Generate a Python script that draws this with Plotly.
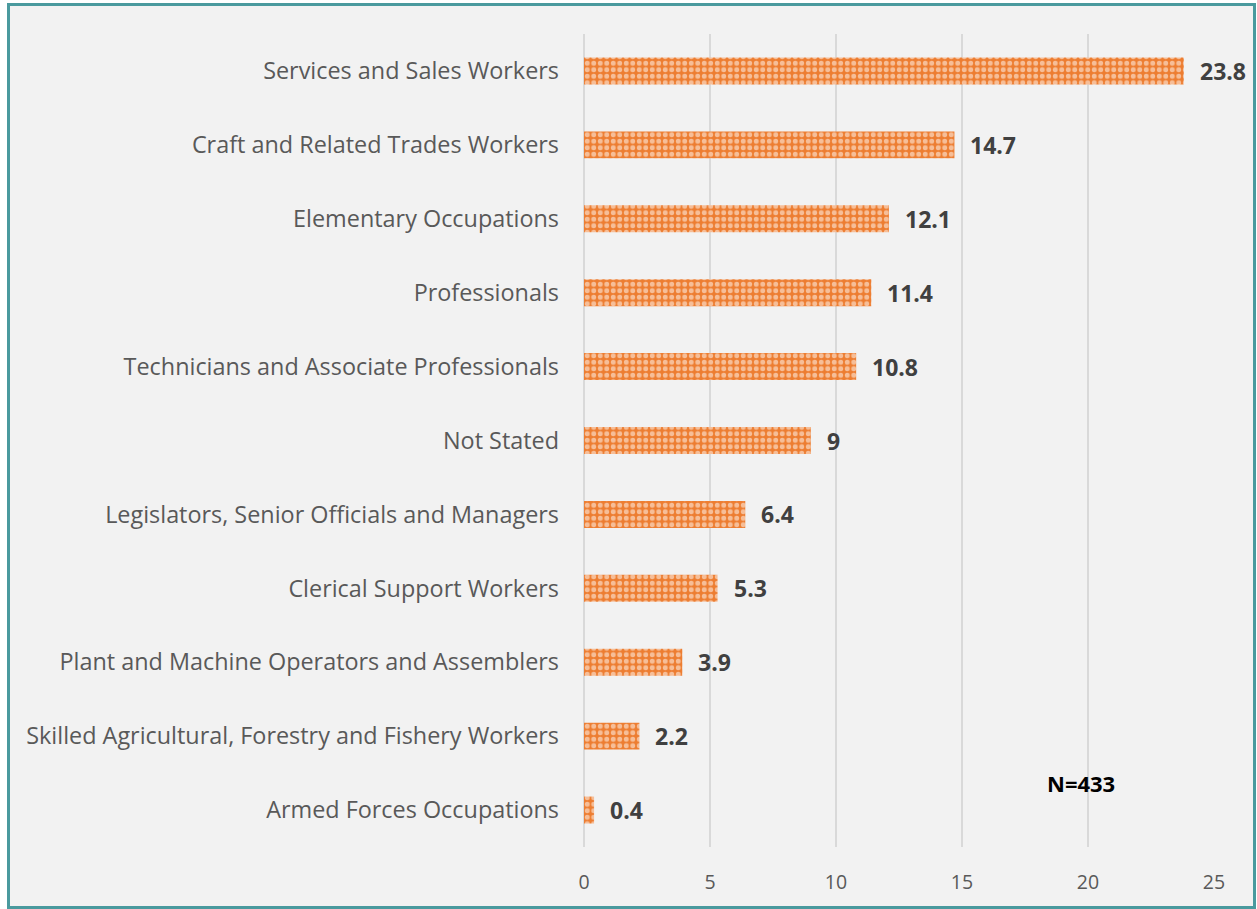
import plotly.graph_objects as go

occupations = [
    "Services and Sales Workers",
    "Craft and Related Trades Workers",
    "Elementary Occupations",
    "Professionals",
    "Technicians and Associate Professionals",
    "Not Stated",
    "Legislators, Senior Officials and Managers",
    "Clerical Support Workers",
    "Plant and Machine Operators and Assemblers",
    "Skilled Agricultural, Forestry and Fishery Workers",
    "Armed Forces Occupations",
]
percentages = [23.8, 14.7, 12.1, 11.4, 10.8, 9, 6.4, 5.3, 3.9, 2.2, 0.4]
x_ticks = [0, 5, 10, 15, 20, 25]
sample_note = "N=433"

W, H = 1257, 909
ML, MR, MT, MB = 584, 43, 34, 62
PW, PH = W - ML - MR, H - MT - MB

ORANGE = "#ED7D31"
TEAL = "#4A9A9E"
FONT = "Open Sans"


def px_to_paper_x(px):
    return (px - ML) / PW


def px_to_paper_y(py):
    return (H - MB - py) / PH


fig = go.Figure()
fig.add_trace(go.Bar(
    x=percentages,
    y=occupations,
    orientation="h",
    width=0.365,
    marker=dict(
        color=ORANGE,
        line=dict(width=0),
        pattern=dict(shape=".", fgcolor="white", bgcolor=ORANGE,
                     size=6.5, solidity=0.45),
    ),
    hoverinfo="x+y",
))

# value labels beside each bar
for occ, val in zip(occupations, percentages):
    fig.add_annotation(
        x=val, y=occ, xref="x", yref="y",
        text=f"<b>{val:g}</b>", showarrow=False,
        xanchor="left", xshift=14,
        font=dict(family=FONT, size=23, color="#404040"),
    )

fig.add_annotation(
    x=px_to_paper_x(1081), y=px_to_paper_y(783), xref="paper", yref="paper",
    text=f"<b>{sample_note}</b>", showarrow=False,
    xanchor="center", yanchor="middle",
    font=dict(family=FONT, size=22, color="#000000"),
)

# chart-area background and frame
fig.add_shape(
    type="rect", xref="paper", yref="paper", layer="below",
    x0=px_to_paper_x(8.5), x1=px_to_paper_x(1254.5),
    y0=px_to_paper_y(907.5), y1=px_to_paper_y(4.5),
    fillcolor="#F2F2F2", line=dict(color=TEAL, width=3),
)

fig.update_layout(
    width=W, height=H,
    margin=dict(l=ML, r=MR, t=MT, b=MB, pad=0),
    paper_bgcolor="white",
    plot_bgcolor="rgba(0,0,0,0)",
    showlegend=False,
    font=dict(family=FONT, color="#595959"),
    xaxis=dict(
        range=[0, 25], tickvals=x_ticks, ticktext=[str(t) for t in x_ticks],
        showgrid=True, gridcolor="#D9D9D9", gridwidth=1.5,
        zeroline=True, zerolinecolor="#D9D9D9", zerolinewidth=1.5,
        showline=False, ticks="", tickfont=dict(family=FONT, size=19.5, color="#595959"),
        ticklabelstandoff=21,
    ),
    yaxis=dict(
        categoryorder="array", categoryarray=occupations, autorange="reversed",
        showgrid=False, zeroline=False, showline=False, ticks="",
        tickfont=dict(family=FONT, size=23.4, color="#595959"),
        ticklabelstandoff=24,
    ),
)

fig.write_html("out.html")
